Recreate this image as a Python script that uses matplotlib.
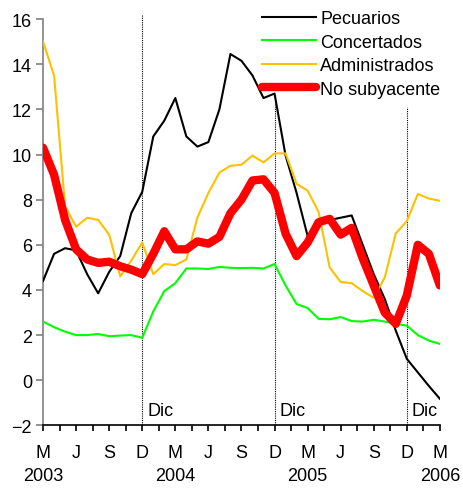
import numpy as np
import matplotlib
matplotlib.use('Agg')
import matplotlib.pyplot as plt

## Monthly data, Mar 2003 .. Mar 2006
pecuarios = [4.4, 5.6, 5.85, 5.75, 4.7, 3.85, 4.8, 5.5, 7.4, 8.35,
             10.8, 11.5, 12.5, 10.8, 10.35, 10.55, 12.0, 14.45, 14.15, 13.5,
             12.5, 12.7, 9.96, 8.3, 6.4, 6.85, 7.1, 7.2, 7.3, 6.0,
             4.7, 3.6, 2.2, 0.95, 0.35, -0.25, -0.82]
concertados = [2.6, 2.35, 2.15, 2.0, 2.0, 2.05, 1.95, 1.98, 2.0, 1.88,
               3.05, 3.95, 4.3, 4.95, 4.95, 4.93, 5.02, 4.98, 4.97, 4.98,
               4.95, 5.15, 4.2, 3.38, 3.2, 2.72, 2.7, 2.8, 2.62, 2.6,
               2.68, 2.6, 2.5, 2.42, 2.0, 1.76, 1.61]
administrados = [15.0, 13.5, 7.7, 6.8, 7.2, 7.1, 6.45, 4.6, 5.3, 6.1,
                 4.7, 5.15, 5.1, 5.35, 7.2, 8.3, 9.2, 9.5, 9.55, 9.95,
                 9.65, 10.05, 10.05, 8.7, 8.4, 7.45, 5.0, 4.35, 4.3, 3.95,
                 3.65, 4.55, 6.5, 7.05, 8.25, 8.05, 7.95]
no_subyacente = [10.3, 9.1, 7.1, 5.8, 5.35, 5.2, 5.25, 5.05, 4.9, 4.7,
                 5.6, 6.6, 5.8, 5.8, 6.15, 6.05, 6.35, 7.4, 8.0, 8.85,
                 8.9, 8.3, 6.5, 5.5, 6.1, 7.0, 7.15, 6.45, 6.75, 5.4,
                 4.2, 3.0, 2.5, 3.75, 6.0, 5.6, 4.2]

month_labels = ['M', 'J', 'S', 'D'] * 3 + ['M']
year_labels = ['2003', '2004', '2005', '2006']
dic_months = [9, 21, 33]
dic_tops = [16.2, 12.7, 12.1]

plt.rcParams['font.family'] = ['Liberation Sans', 'DejaVu Sans']
plt.rcParams['font.size'] = 13

fig = plt.figure(figsize=(4.63, 4.89), dpi=100)
ax = fig.add_axes([0.093, 0.128, 0.857, 0.831])

x = np.arange(len(pecuarios))
ax.plot(x, pecuarios, color='black', lw=1.5, label='Pecuarios', zorder=3)
ax.plot(x, concertados, color='#00ff00', lw=1.5, label='Concertados', zorder=3)
ax.plot(x, administrados, color='#ffc000', lw=1.5, label='Administrados', zorder=3)
ax.plot(x, no_subyacente, color='#ff0000', lw=6, label='No subyacente',
        solid_capstyle='round', solid_joinstyle='round', zorder=4)

## December markers
for m, top in zip(dic_months, dic_tops):
    ax.plot([m, m], [-2, top], color='black', lw=0.8, linestyle=(0, (1, 1)),
            clip_on=False, zorder=2)
    ax.text(m + 0.45, -1.35, 'Dic', ha='left', va='center')

ax.set_xlim(0, 36)
ax.set_ylim(-2, 16)
ax.set_yticks(np.arange(-2, 17, 2))
ax.set_xticks(np.arange(0, 36.01, 1.5))
ax.set_xticklabels([])

## month & year labels below the axis (offsets in pixels)
for i, lab in enumerate(month_labels):
    ax.annotate(lab, xy=(i * 3, -2), xytext=(0, -27.5), textcoords='offset pixels',
                ha='center', va='center', annotation_clip=False)
for i, lab in enumerate(year_labels):
    ax.annotate(lab, xy=(i * 12, -2), xytext=(0, -50), textcoords='offset pixels',
                ha='center', va='center', annotation_clip=False)

ax.spines['top'].set_visible(False)
ax.spines['right'].set_visible(False)
ax.spines['left'].set_color('#808080')
ax.spines['left'].set_linewidth(1.2)
ax.spines['bottom'].set_linewidth(1.2)
ax.tick_params(axis='y', direction='out', length=5, color='#808080', width=1.2, pad=3)
ax.tick_params(axis='x', direction='out', length=4, color='black', width=1.2)

ax.legend(loc='upper right', bbox_to_anchor=(1.02, 1.04), frameon=False,
          handlelength=3.0, handletextpad=0.25, labelspacing=0.36,
          borderaxespad=0)

fig.savefig('out.png', dpi=100)
